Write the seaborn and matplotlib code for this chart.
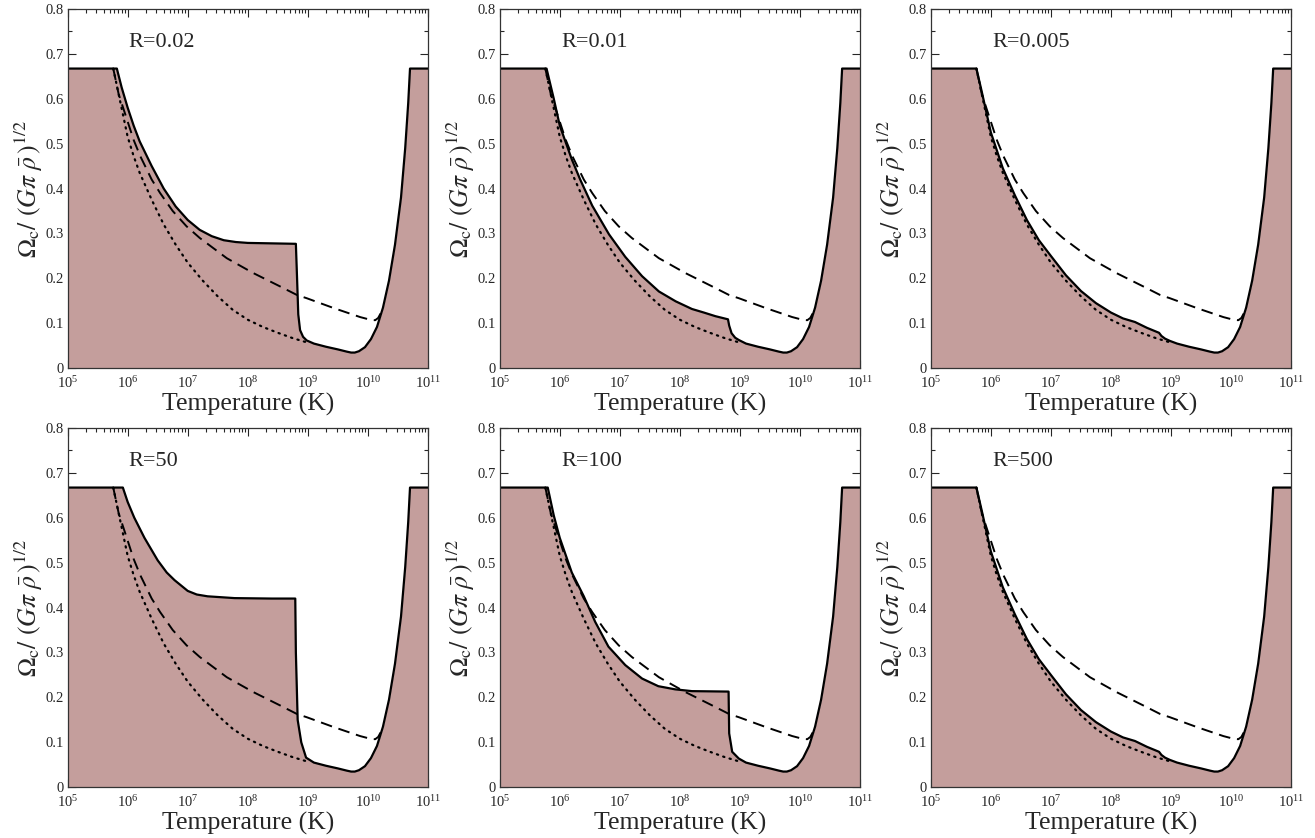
import numpy as np
import matplotlib
matplotlib.use("Agg")
import matplotlib.pyplot as plt
import seaborn as sns
from matplotlib.ticker import FixedLocator, NullFormatter, LogFormatterSciNotation

# log10(T) and Omega_c / (G pi rho)^1/2

# dashed and dotted curves are the same in every panel
dashed_logt = [5.76, 5.85, 5.99, 6.1, 6.21, 6.4, 6.54, 6.75, 6.98, 7.2, 7.4, 7.65, 8.09,
               8.54, 8.82, 8.98, 9.43, 9.87, 10.04, 10.12, 10.17, 10.21]
dashed_omega = [0.667, 0.61, 0.553, 0.508, 0.472, 0.42, 0.39, 0.35, 0.316, 0.29, 0.27, 0.245,
                0.212, 0.182, 0.163, 0.156, 0.134, 0.114, 0.108, 0.107, 0.112, 0.122]

dotted_logt = [5.76, 5.85, 6.0, 6.1, 6.2, 6.4, 6.6, 6.8, 7.0, 7.25, 7.5, 7.75, 8.0,
               8.25, 8.5, 8.75, 9.0]
dotted_omega = [0.667, 0.61, 0.515, 0.472, 0.435, 0.375, 0.32, 0.275, 0.235, 0.195, 0.16, 0.13,
                0.108, 0.092, 0.079, 0.067, 0.057]

# high temperature part of the solid curve, shared by all panels
tail_logt = [9.1, 9.3, 9.5, 9.65, 9.72, 9.78, 9.85, 9.95, 10.05, 10.15, 10.25, 10.35,
             10.45, 10.55, 10.62, 10.67, 10.70, 11.0]
tail_omega = [0.055, 0.048, 0.042, 0.037, 0.035, 0.035, 0.038, 0.047, 0.065, 0.092, 0.135,
              0.195, 0.275, 0.38, 0.49, 0.59, 0.667, 0.667]

# low temperature part of the solid curve, one per panel
r002_logt = [5.0, 5.82, 5.9, 6.0, 6.1, 6.2, 6.4, 6.6, 6.8, 7.0, 7.2, 7.4, 7.6, 7.8, 8.0,
             8.4, 8.80, 8.82, 8.84, 8.87, 8.92, 8.98]
r002_omega = [0.667, 0.667, 0.625, 0.58, 0.54, 0.505, 0.45, 0.40, 0.36, 0.33, 0.308, 0.294,
              0.285, 0.281, 0.279, 0.278, 0.277, 0.20, 0.12, 0.085, 0.07, 0.062]

r001_logt = [5.0, 5.78, 5.9, 6.0, 6.2, 6.34, 6.54, 6.82, 7.09, 7.37, 7.65, 7.93, 8.2,
             8.3, 8.4, 8.59, 8.80, 8.82, 8.86, 8.92, 8.98]
r001_omega = [0.667, 0.667, 0.6, 0.54, 0.465, 0.42, 0.362, 0.298, 0.248, 0.205, 0.171, 0.149,
              0.132, 0.128, 0.124, 0.116, 0.109, 0.095, 0.078, 0.068, 0.063]

r0005_logt = [5.0, 5.76, 5.85, 6.0, 6.2, 6.4, 6.6, 6.8, 7.0, 7.25, 7.5, 7.75, 8.0, 8.2,
              8.4, 8.6, 8.8, 8.84, 8.9, 8.98]
r0005_omega = [0.667, 0.667, 0.615, 0.525, 0.445, 0.385, 0.33, 0.285, 0.25, 0.207, 0.172, 0.145,
               0.124, 0.111, 0.103, 0.09, 0.079, 0.072, 0.066, 0.061]

r50_logt = [5.0, 5.92, 6.0, 6.11, 6.28, 6.5, 6.65, 6.78, 7.0, 7.15, 7.33, 7.78, 8.4, 8.79,
            8.80, 8.83, 8.89, 8.97]
r50_omega = [0.667, 0.667, 0.635, 0.60, 0.555, 0.505, 0.478, 0.461, 0.437, 0.429, 0.425, 0.421,
             0.42, 0.42, 0.30, 0.15, 0.1, 0.066]

r100_logt = [5.0, 5.80, 5.9, 6.0, 6.2, 6.4, 6.59, 6.81, 7.09, 7.37, 7.64, 7.92, 8.2,
             8.81, 8.82, 8.87, 8.98]
r100_omega = [0.667, 0.667, 0.605, 0.555, 0.478, 0.425, 0.368, 0.313, 0.272, 0.242, 0.225,
              0.218, 0.214, 0.213, 0.12, 0.079, 0.064]

r500_logt = [5.0, 5.76, 5.85, 6.0, 6.2, 6.4, 6.6, 6.8, 7.0, 7.25, 7.5, 7.75, 8.0, 8.2,
             8.4, 8.6, 8.8, 8.84, 8.9, 8.98]
r500_omega = [0.667, 0.667, 0.615, 0.525, 0.445, 0.385, 0.33, 0.285, 0.25, 0.207, 0.172, 0.145,
              0.124, 0.111, 0.103, 0.09, 0.079, 0.072, 0.066, 0.061]

panel_labels = ["R=0.02", "R=0.01", "R=0.005", "R=50", "R=100", "R=500"]
panel_logt = [r002_logt, r001_logt, r0005_logt, r50_logt, r100_logt, r500_logt]
panel_omega = [r002_omega, r001_omega, r0005_omega, r50_omega, r100_omega, r500_omega]

x_ticks = [1e5, 1e6, 1e7, 1e8, 1e9, 1e10, 1e11]
y_ticks = [0, 0.1, 0.2, 0.3, 0.4, 0.5, 0.6, 0.7, 0.8]
y_ticklabels = ["0", "0.1", "0.2", "0.3", "0.4", "0.5", "0.6", "0.7", "0.8"]

fill_color = "#c49e9c"

sns.set_style("ticks")
plt.rcParams["font.family"] = ["Liberation Serif", "DejaVu Serif"]
plt.rcParams["mathtext.fontset"] = "stix"
plt.rcParams["xtick.direction"] = "in"
plt.rcParams["ytick.direction"] = "in"

fig = plt.figure(figsize=(13.15, 8.38), dpi=100)

lefts = [0.0514, 0.380, 0.7078]
bottoms = [0.5605, 0.0605]
width, height = 0.2741, 0.4290

minor_x = [m * 10.0 ** e for e in range(5, 11) for m in range(2, 10)]
minor_y = [0.05 + 0.1 * k for k in range(8)]

for i, label in enumerate(panel_labels):
    row, col = divmod(i, 3)
    ax = fig.add_axes([lefts[col], bottoms[row], width, height])

    t_solid = 10 ** np.array(panel_logt[i] + tail_logt)
    w_solid = np.array(panel_omega[i] + tail_omega)

    ax.fill_between(t_solid, 0, w_solid, color=fill_color, linewidth=0)
    sns.lineplot(x=t_solid, y=w_solid, ax=ax, color="black", linewidth=1.6,
                 sort=False, estimator=None)
    sns.lineplot(x=10 ** np.array(dashed_logt), y=dashed_omega, ax=ax, color="black",
                 linewidth=1.4, sort=False, estimator=None)
    ax.lines[-1].set_dashes([6, 3.5])
    sns.lineplot(x=10 ** np.array(dotted_logt), y=dotted_omega, ax=ax, color="black",
                 linewidth=1.6, sort=False, estimator=None)
    ax.lines[-1].set_dashes([0.6, 2.4])
    ax.lines[-1].set_dash_capstyle("round")

    ax.set_xscale("log")
    ax.set_xlim(1e5, 1e11)
    ax.set_ylim(0, 0.8)
    ax.xaxis.set_major_locator(FixedLocator(x_ticks))
    ax.xaxis.set_major_formatter(LogFormatterSciNotation())
    ax.xaxis.set_minor_locator(FixedLocator(minor_x))
    ax.xaxis.set_minor_formatter(NullFormatter())
    ax.yaxis.set_major_locator(FixedLocator(y_ticks))
    ax.set_yticklabels(y_ticklabels)
    ax.yaxis.set_minor_locator(FixedLocator(minor_y))
    ax.tick_params(which="both", top=True, right=True, labelsize=10.5)
    ax.tick_params(axis="x", which="major", pad=5)
    ax.tick_params(axis="y", which="major", pad=3)
    ax.tick_params(which="major", length=6, width=0.8)
    ax.tick_params(which="minor", length=3, width=0.8)
    for sp in ax.spines.values():
        sp.set_linewidth(0.9)
        sp.set_color("#333333")

    ax.set_xlabel("Temperature (K)", fontsize=18.5, labelpad=1)
    ax.set_ylabel(r"$\Omega_{\rm c}/\ (G\pi\ \bar{\rho}\,)^{1/2}$", fontsize=18.5, labelpad=0)
    ax.text(0.17, 0.905, label, transform=ax.transAxes, fontsize=16, va="center")

fig.savefig("out.png", dpi=100)
